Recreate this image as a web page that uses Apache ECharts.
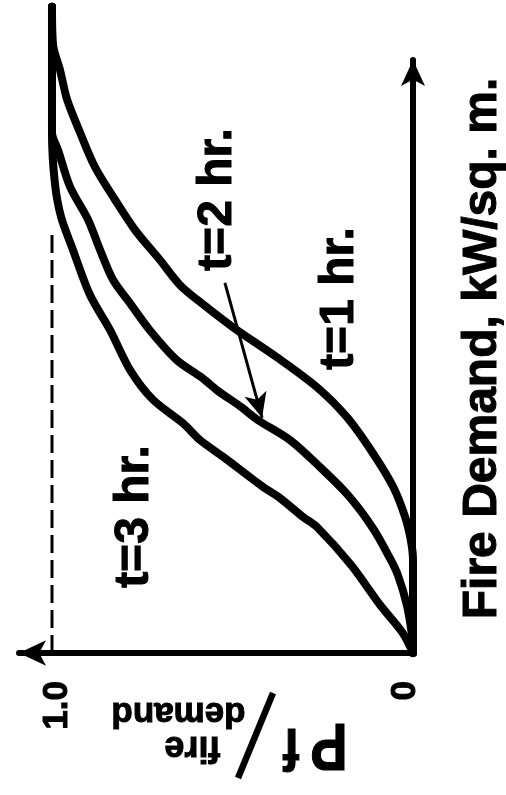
<!DOCTYPE html>
<html>
<head>
<meta charset="utf-8">
<script src="https://cdn.jsdelivr.net/npm/echarts@6/dist/echarts.min.js"></script>
<style>
html,body{margin:0;padding:0;background:#fff;}
#chart{width:506px;height:795px;}
</style>
</head>
<body>
<div id="chart"></div>
<script>
// ---- data (Pf/fire demand, Fire Demand) ----
const tickValues = [0, 1];
const tickLabels = ['0', '1.0'];
const seriesNames = ['t=1 hr.', 't=2 hr.', 't=3 hr.'];
const axisTitle = 'Fire Demand, kW/sq. m.';

const curveT1 = [[0,0],[0,15.5],[0.006,18.8],[0.022,22.7],[0.055,27.7],[0.111,33.3],[0.183,39.3],[0.266,44.3],[0.377,49.3],[0.499,54.3],[0.590,58.5],[0.645,61.3],[0.701,65.5],[0.770,70.5],[0.825,75.5],[0.881,81.0],[0.922,86.7],[0.958,92.2],[0.978,97.2],[0.997,101.3],[1.0,107.7]];
const curveT2 = [[0,0],[0.003,3.0],[0.017,8.0],[0.042,13.0],[0.064,15.8],[0.111,20.8],[0.180,26.3],[0.263,31.3],[0.341,35.5],[0.429,38.8],[0.476,41.0],[0.543,43.8],[0.587,46.0],[0.654,48.8],[0.729,53.8],[0.784,58.3],[0.831,62.2],[0.867,67.2],[0.900,72.2],[0.950,77.7],[0.983,83.8],[1.0,86.7],[1.0,99.3],[1.0,107.7]];
const curveT3 = [[0,0],[0.028,3.3],[0.091,8.0],[0.172,14.7],[0.266,21.0],[0.305,22.7],[0.368,25.8],[0.416,27.7],[0.526,32.7],[0.590,35.5],[0.637,38.3],[0.720,42.2],[0.784,47.2],[0.839,53.8],[0.895,59.7],[0.942,67.2],[0.975,72.7],[0.992,78.3],[1.0,86.7],[1.0,99.3],[1.0,107.7]];
const levelOne = [[1,0],[1,70.8]];
const t2Pointer = [[0.521,61.7],[0.418,39.2]];

// ---- chart ----
const FONT = '"Liberation Sans", Arial, Helvetica, sans-serif';
const tickLabelShift = [-8, 5];   // horizontal nudge of each tick label (px)
const chart = echarts.init(document.getElementById('chart'), null, {renderer:'canvas'});

function curve(name, data) {
  return {
    name: name, type: 'line', data: data, symbol: 'none', clip: false,
    smooth: 0.3, animation: false, silent: true,
    lineStyle: {color: '#000', width: 8, cap: 'round', join: 'round'}
  };
}

function txt(text, x, y, rot, size, extra, align) {
  return Object.assign({
    type: 'text', x: x, y: y, rotation: rot, silent: true,
    style: {
      text: text, fill: '#000', stroke: '#000', lineWidth: 1,
      fontSize: size, fontWeight: 'bold', fontFamily: FONT,
      textAlign: align || 'center', textVerticalAlign: 'middle',
      align: align || 'center', verticalAlign: 'middle'
    }
  }, extra || {});
}

const s2 = curve(seriesNames[1], curveT2);
s2.markLine = {
  silent: true, animation: false,
  symbol: ['none', 'arrow'], symbolSize: [17, 25],
  lineStyle: {color: '#000', width: 3, type: 'solid'},
  label: {show: false},
  data: [[{coord: t2Pointer[0]}, {coord: t2Pointer[1]}]]
};

chart.setOption({
  animation: false,
  backgroundColor: '#fff',
  grid: {left: 19, right: 93, top: 60, bottom: 142, containLabel: false},
  xAxis: {
    type: 'value', inverse: true, min: 0, max: 1.0914,
    axisLine: {show: true, onZero: false, symbol: ['arrow', 'none'], symbolSize: [19, 27],
      lineStyle: {color: '#000', width: 6}},
    axisTick: {show: false},
    splitLine: {show: false},
    axisLabel: {show: false}
  },
  yAxis: {
    type: 'value', position: 'right', min: 0, max: 98.83,
    axisLine: {show: true, onZero: false, symbol: ['none', 'arrow'], symbolSize: [18, 26],
      lineStyle: {color: '#000', width: 6}},
    axisTick: {show: false},
    axisLabel: {show: false},
    splitLine: {show: false}
  },
  series: [
    curve(seriesNames[0], curveT1),
    s2,
    curve(seriesNames[2], curveT3),
    {
      type: 'line', data: levelOne, symbol: 'none', silent: true, animation: false,
      lineStyle: {color: '#000', width: 3, type: [18, 7]}
    }
  ]
});

// tick labels placed through the axis scale
const tickGraphics = tickValues.map(function (v, i) {
  const p = chart.convertToPixel({gridIndex: 0}, [v, 0]);
  return txt(tickLabels[i], p[0] + tickLabelShift[i], p[1] + 28, Math.PI / 2, 35, null, 'right');
});

chart.setOption({
  graphic: tickGraphics.concat([
    txt(axisTitle, 483, 348.5, Math.PI / 2, 48),
    txt(seriesNames[1], 217.5, 199.5, Math.PI / 2, 48),
    txt(seriesNames[0], 339.5, 298.5, Math.PI / 2, 48),
    txt(seriesNames[2], 135, 516.5, Math.PI / 2, 48),
    txt('P', 329, 743, Math.PI, 56, {scaleY: 1.2}),
    txt('f', 291.5, 746, Math.PI, 50, {scaleY: 1.2}),
    txt('demand', 178.5, 713, Math.PI, 35),
    txt('fire', 192.5, 747, Math.PI, 36),
    {type: 'line', silent: true, shape: {x1: 273, y1: 693, x2: 238, y2: 778},
      style: {stroke: '#000', lineWidth: 6.5}}
  ])
});
</script>
</body>
</html>
